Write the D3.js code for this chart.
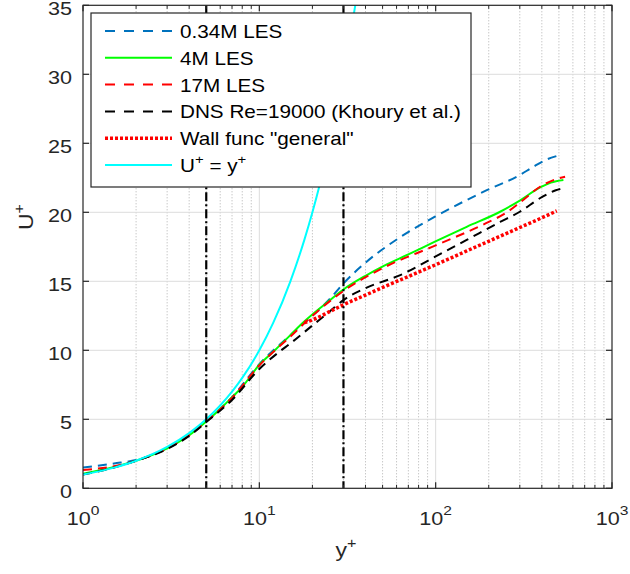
<!DOCTYPE html>
<html>
<head>
<meta charset="utf-8">
<script src="https://cdn.jsdelivr.net/npm/d3@7"></script>
<style>
  html, body { margin: 0; padding: 0; background: #fff; }
  svg { display: block; font-family: "Liberation Sans", Arial, sans-serif; }
</style>
</head>
<body>
<svg id="chart" width="630" height="574"></svg>
<script>
// Mean velocity profiles in wall units: U+ versus y+
const yPlusLes034 = [1, 1.5, 2, 3, 5, 7, 10, 15, 20, 25, 30, 40.6, 63, 99, 195, 300, 358, 430, 486];
const uLes034     = [1.5, 1.8, 2.05, 2.9, 4.85, 6.6, 9.0, 11.1, 12.5, 13.7, 14.85, 16.42, 18.2, 19.68, 21.6, 22.7, 23.3, 23.85, 24.08];

const yPlusLes4 = [1, 1.5, 2, 3, 4, 5, 6, 7, 8, 10, 12, 15, 17, 20, 25, 29.7, 40, 50.5, 70, 99, 150, 232, 300, 391, 450, 530];
const uLes4     = [1.05, 1.55, 2.0, 2.9, 3.85, 4.85, 5.75, 6.6, 7.35, 8.95, 9.9, 11.1, 11.8, 12.6, 13.6, 14.37, 15.4, 16.1, 16.95, 17.87, 18.95, 20.04, 20.85, 21.8, 22.15, 22.34];

const yPlusLes17 = [1, 1.5, 2, 3, 4, 5, 7, 10, 15, 20, 30, 50, 100, 200, 250, 300, 391, 480, 542];
const uLes17     = [1.33, 1.6, 2.0, 2.9, 3.85, 4.85, 6.55, 8.9, 11.0, 12.5, 14.3, 15.95, 17.6, 19.3, 19.95, 20.7, 21.85, 22.4, 22.58];

const yPlusDns = [1, 1.5, 2, 3, 4, 5, 7, 10, 13, 15, 20, 25, 30, 40, 63, 100, 150, 232, 300, 400, 480, 530];
const uDns     = [1.0, 1.5, 2.0, 2.85, 3.8, 4.8, 6.4, 8.65, 9.9, 10.5, 11.8, 12.8, 13.64, 14.5, 15.45, 16.8, 18.0, 19.3, 20.04, 21.1, 21.6, 21.74];

const yPlusWall = [18, 20, 25, 30, 40, 50, 70, 100, 150, 200, 300, 400, 486];
const uWall     = [12.0, 12.2, 12.8, 13.3, 14.0, 14.55, 15.35, 16.2, 17.2, 17.9, 18.9, 19.6, 20.1];

const yPlusLinear = [1, 1.5, 2, 3, 4, 5, 6, 7, 8, 10, 12, 15, 18, 20, 22, 25, 28, 30, 35];
const uLinear     = [1, 1.5, 2, 3, 4, 5, 6, 7, 8, 10, 12, 15, 18, 20, 22, 25, 28, 30, 35];

// Buffer-layer limits marked with vertical lines
const markerYPlus = [5, 30];

const yTicks = [0, 5, 10, 15, 20, 25, 30, 35];
const xTickExponents = [0, 1, 2, 3];

const seriesNames = ["0.34M LES", "4M LES", "17M LES", "DNS Re=19000 (Khoury et al.)", "Wall func \"general\"", "U+ = y+"];

const series = [
  { name: seriesNames[0], x: yPlusLes034, y: uLes034, color: "#0072BD", width: 2, dash: "9,6", legendDash: "10,9" },
  { name: seriesNames[1], x: yPlusLes4,   y: uLes4,   color: "#00FF00", width: 2, dash: null, legendDash: null },
  { name: seriesNames[2], x: yPlusLes17,  y: uLes17,  color: "#FF0000", width: 2, dash: "9,6", legendDash: "10,9" },
  { name: seriesNames[3], x: yPlusDns,    y: uDns,    color: "#000000", width: 2, dash: "9,6", legendDash: "10,9" },
  { name: seriesNames[4], x: yPlusWall,   y: uWall,   color: "#FF0000", width: 3.5, dash: "3,2", legendDash: "3,2" },
  { name: seriesNames[5], x: yPlusLinear, y: uLinear, color: "#00FFFF", width: 2, dash: null, legendDash: null }
];

const plotLeft = 83, plotRight = 612, plotTop = 5.3, plotBottom = 488.3;
const xScale = d3.scaleLog().domain([1, 1000]).range([plotLeft, plotRight]);
const yScale = d3.scaleLinear().domain([0, 35]).range([plotBottom, plotTop]);

const svg = d3.select("#chart");
const axisColor = "#262626";
const textColor = "#262626";

svg.append("defs").append("clipPath").attr("id", "plotClip")
  .append("rect").attr("x", plotLeft).attr("y", plotTop)
  .attr("width", plotRight - plotLeft).attr("height", plotBottom - plotTop);

// Grid: minor dotted verticals, major solid lines
const minorX = [];
for (let e = 0; e < 3; e++) for (let m = 2; m <= 9; m++) minorX.push(m * Math.pow(10, e));
const majorX = xTickExponents.map(e => Math.pow(10, e));

const grid = svg.append("g");
grid.selectAll(".minorx").data(minorX).enter().append("line")
  .attr("x1", d => xScale(d)).attr("x2", d => xScale(d))
  .attr("y1", plotTop).attr("y2", plotBottom)
  .attr("stroke", "#b0b0b0").attr("stroke-width", 1).attr("stroke-dasharray", "1,2");
grid.selectAll(".majorx").data(majorX.slice(1, 3)).enter().append("line")
  .attr("x1", d => xScale(d)).attr("x2", d => xScale(d))
  .attr("y1", plotTop).attr("y2", plotBottom)
  .attr("stroke", "#dcdcdc").attr("stroke-width", 1);
grid.selectAll(".majory").data(yTicks.slice(1, -1)).enter().append("line")
  .attr("x1", plotLeft).attr("x2", plotRight)
  .attr("y1", d => yScale(d)).attr("y2", d => yScale(d))
  .attr("stroke", "#dcdcdc").attr("stroke-width", 1);

// Profiles
const line = d3.line().curve(d3.curveMonotoneX);
const plot = svg.append("g").attr("clip-path", "url(#plotClip)");
series.forEach(s => {
  const pts = s.x.map((v, i) => [xScale(v), yScale(s.y[i])]);
  plot.append("path").attr("d", line(pts))
    .attr("fill", "none").attr("stroke", s.color)
    .attr("stroke-width", s.width)
    .attr("stroke-dasharray", s.dash)
    .attr("stroke-linejoin", "round");
});

// Vertical dash-dot markers
plot.selectAll(".marker").data(markerYPlus).enter().append("line")
  .attr("x1", d => xScale(d)).attr("x2", d => xScale(d))
  .attr("y1", plotTop).attr("y2", plotBottom)
  .attr("stroke", "#000").attr("stroke-width", 2.2)
  .attr("stroke-dasharray", "9,3,2,3");

// Axes with inward ticks on all four sides
const ax = svg.append("g");
ax.append("rect").attr("x", plotLeft).attr("y", plotTop)
  .attr("width", plotRight - plotLeft).attr("height", plotBottom - plotTop)
  .attr("fill", "none").attr("stroke", axisColor).attr("stroke-width", 1.2);

yTicks.forEach(t => {
  const y = yScale(t);
  ax.append("line").attr("x1", plotLeft).attr("x2", plotLeft + 6).attr("y1", y).attr("y2", y).attr("stroke", axisColor).attr("stroke-width", 1.2);
  ax.append("line").attr("x1", plotRight).attr("x2", plotRight - 6).attr("y1", y).attr("y2", y).attr("stroke", axisColor).attr("stroke-width", 1.2);
});
majorX.forEach(v => {
  const x = xScale(v);
  ax.append("line").attr("x1", x).attr("x2", x).attr("y1", plotBottom).attr("y2", plotBottom - 6).attr("stroke", axisColor).attr("stroke-width", 1.2);
  ax.append("line").attr("x1", x).attr("x2", x).attr("y1", plotTop).attr("y2", plotTop + 6).attr("stroke", axisColor).attr("stroke-width", 1.2);
});
minorX.forEach(v => {
  const x = xScale(v);
  ax.append("line").attr("x1", x).attr("x2", x).attr("y1", plotBottom).attr("y2", plotBottom - 3.5).attr("stroke", axisColor).attr("stroke-width", 1);
  ax.append("line").attr("x1", x).attr("x2", x).attr("y1", plotTop).attr("y2", plotTop + 3.5).attr("stroke", axisColor).attr("stroke-width", 1);
});

// Tick labels
const labels = svg.append("g").attr("fill", textColor);
yTicks.forEach(t => {
  labels.append("text")
    .attr("transform", `translate(72,${yScale(t) + 9.2}) scale(1.2,1)`)
    .attr("text-anchor", "end").attr("font-size", 18)
    .text(t);
});
xTickExponents.forEach(e => {
  const t = labels.append("text")
    .attr("transform", `translate(${xScale(Math.pow(10, e))},525) scale(1.2,1)`)
    .attr("text-anchor", "middle").attr("font-size", 18);
  t.append("tspan").text("10");
  t.append("tspan").attr("font-size", 13).attr("dy", -10).text(e);
});

// Axis titles
const xl = labels.append("text")
  .attr("transform", `translate(346,557) scale(1.15,1)`)
  .attr("text-anchor", "middle").attr("font-size", 20);
xl.append("tspan").text("y");
xl.append("tspan").attr("font-size", 14).attr("dy", -9).text("+");

const yl = labels.append("text")
  .attr("transform", `translate(33,217) rotate(-90) scale(1.15,1)`)
  .attr("text-anchor", "middle").attr("font-size", 20);
yl.append("tspan").text("U");
yl.append("tspan").attr("font-size", 14).attr("dy", -9).text("+");

// Legend
const lg = svg.append("g");
lg.append("rect").attr("x", 91).attr("y", 13).attr("width", 380).attr("height", 174)
  .attr("fill", "#fff").attr("stroke", axisColor).attr("stroke-width", 1.2);
series.forEach((s, i) => {
  const cy = 31 + 26.8 * i;
  lg.append("line").attr("x1", 105).attr("x2", 172).attr("y1", cy).attr("y2", cy)
    .attr("stroke", s.color).attr("stroke-width", s.width)
    .attr("stroke-dasharray", s.legendDash);
  const t = lg.append("text")
    .attr("transform", `translate(180,${cy + 7}) scale(1.15,1)`)
    .attr("font-size", 18).attr("fill", "#000");
  if (s.name === "U+ = y+") {
    t.append("tspan").text("U");
    t.append("tspan").attr("font-size", 13).attr("dy", -8).text("+");
    t.append("tspan").attr("dy", 8).text(" = y");
    t.append("tspan").attr("font-size", 13).attr("dy", -8).text("+");
  } else {
    t.text(s.name);
  }
});
</script>
</body>
</html>
